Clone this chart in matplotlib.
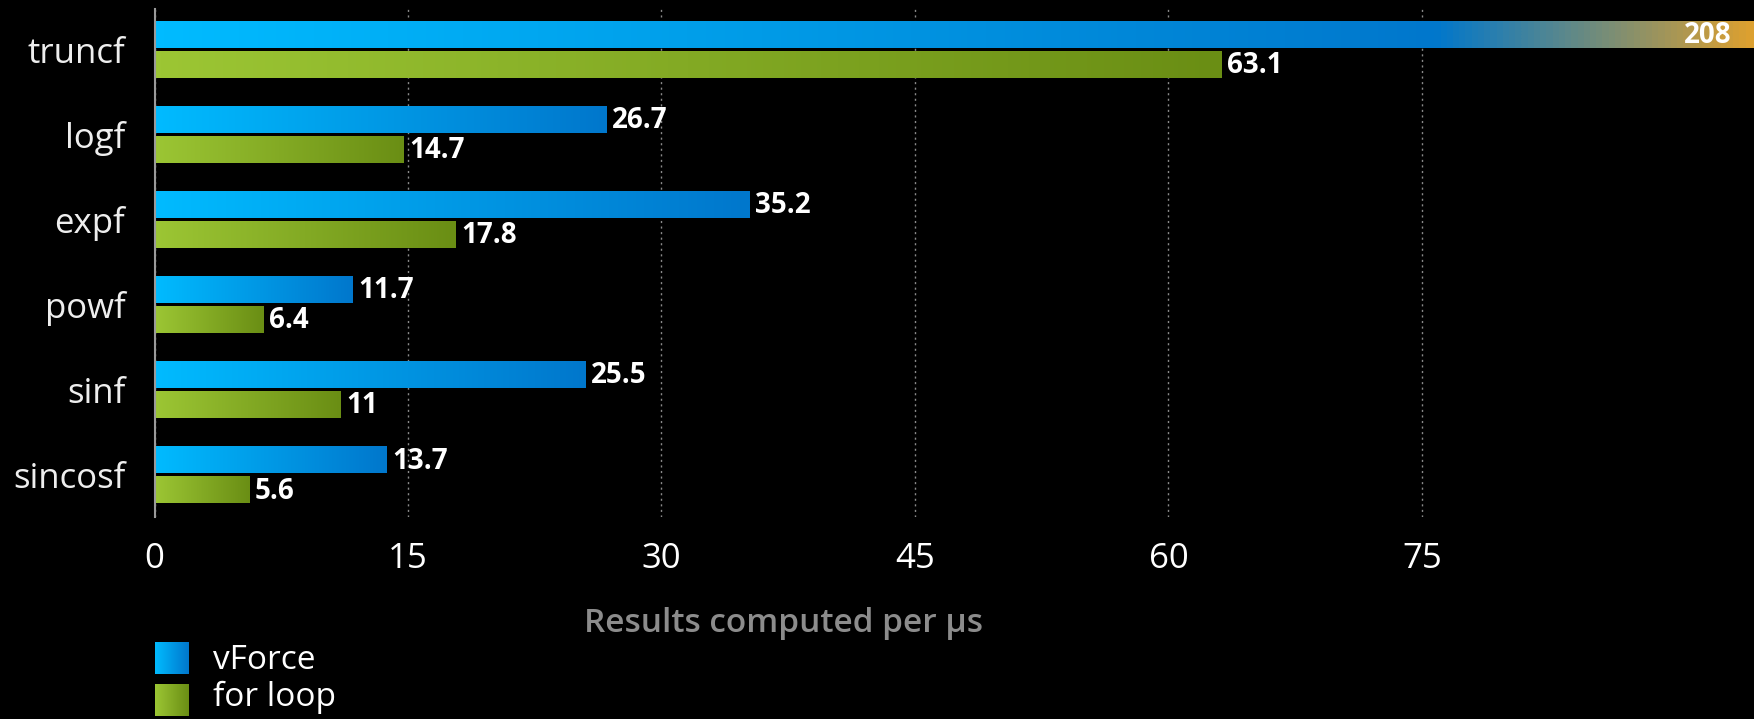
import numpy as np
import matplotlib
matplotlib.use("Agg")
import matplotlib.pyplot as plt
from matplotlib.colors import LinearSegmentedColormap

# Benchmark data: results computed per microsecond
functions = ["truncf", "logf", "expf", "powf", "sinf", "sincosf"]
vforce = [208, 26.7, 35.2, 11.7, 25.5, 13.7]
for_loop = [63.1, 14.7, 17.8, 6.4, 11, 5.6]
series_names = ["vForce", "for loop"]
x_ticks = [0, 15, 30, 45, 60, 75]
x_label = "Results computed per µs"

XMAX = 94.65
FONT = ["Open Sans", "DejaVu Sans"]

BLUE = ("#00BBFF", "#0077CC")
GREEN = ("#9CC634", "#6A8E14")
GOLD = "#DCA030"

blue_cmap = LinearSegmentedColormap.from_list("blue_fade", BLUE)
green_cmap = LinearSegmentedColormap.from_list("green_fade", GREEN)

fig = plt.figure(figsize=(17.54, 7.19), dpi=100, facecolor="black")
W, H = 1754, 719
ax = fig.add_axes([154.5 / W, 1 - 517 / H, 1 - 154.5 / W, (517 - 9) / H])
ax.set_facecolor("black")

grad = np.linspace(0, 1, 256).reshape(1, -1)


def gradient_bar(y, value, height, cmap, overflow_cmap=None):
    visible = min(value, XMAX)
    use = overflow_cmap if (value > XMAX and overflow_cmap is not None) else cmap
    ax.imshow(grad, cmap=use, aspect="auto", interpolation="bilinear",
              extent=(0, visible, y + height / 2, y - height / 2), zorder=2)
    return visible


bar_h = 0.31
offset = 0.176
y_pos = np.arange(len(functions))

label_kw = dict(color="white", fontsize=20, fontweight="bold", family=FONT,
                va="center", zorder=4)

for i, (vf, fl) in enumerate(zip(vforce, for_loop)):
    yb = y_pos[i] - offset
    yg = y_pos[i] + offset
    if vf > XMAX:
        # bar runs off the scale: blue fades into gold at the right edge
        over = LinearSegmentedColormap.from_list(
            "blue_over", [(0, BLUE[0]), (76 / XMAX, BLUE[1]), (1, GOLD)])
        end = gradient_bar(yb, vf, bar_h, blue_cmap, over)
        ax.text(end - 1.3, yb + 0.01, f"{vf:g}", ha="right", **label_kw)
    else:
        end = gradient_bar(yb, vf, bar_h, blue_cmap)
        ax.text(end + 0.35, yb + 0.01, f"{vf:g}", ha="left", **label_kw)
    end = gradient_bar(yg, fl, bar_h, green_cmap)
    ax.text(end + 0.35, yg + 0.01, f"{fl:g}", ha="left", **label_kw)

ax.set_xlim(0, XMAX)
ax.set_ylim(5.491, -0.478)

ax.set_xticks(x_ticks)
ax.set_xticklabels([str(t) for t in x_ticks])
ax.set_yticks(y_pos)
ax.set_yticklabels(functions)
ax.tick_params(axis="x", length=0, pad=18, labelsize=25, labelcolor="white")
ax.tick_params(axis="y", length=0, pad=21, labelsize=25, labelcolor="#EEEEEE")
for lab in ax.get_xticklabels() + ax.get_yticklabels():
    lab.set_family(FONT)

ax.grid(axis="x", color="#8a8a8a", linestyle=(0, (1.5, 2.5)), linewidth=1.0, zorder=0)
ax.set_axisbelow(True)
for side in ("top", "right", "bottom"):
    ax.spines[side].set_visible(False)
ax.spines["left"].set_color("#9a9a9a")
ax.spines["left"].set_linewidth(1.5)
ax.spines["left"].set_zorder(3)

ax.set_xlabel(x_label, fontsize=24, color="#8C8C8C", family=FONT, fontweight="semibold")
ax.xaxis.set_label_coords((784 - 154.5) / (W - 154.5), (517 - 631.7) / 508)
ax.xaxis.label.set_verticalalignment("baseline")

# Legend: gradient swatches with labels
legend_rows = [(BLUE, 674, 669), (GREEN, 716, 706)]
for name, (cols, bottom_px, base_px) in zip(series_names, legend_rows):
    sw = fig.add_axes([155 / W, 1 - bottom_px / H, 33 / W, 32 / H])
    sw.imshow(grad, cmap=LinearSegmentedColormap.from_list(name, cols),
              aspect="auto", interpolation="bilinear")
    sw.axis("off")
    fig.text(213 / W, 1 - base_px / H, name, color="white", fontsize=24,
             family=FONT, va="baseline", ha="left")

fig.savefig("out.png", dpi=100, facecolor="black")
